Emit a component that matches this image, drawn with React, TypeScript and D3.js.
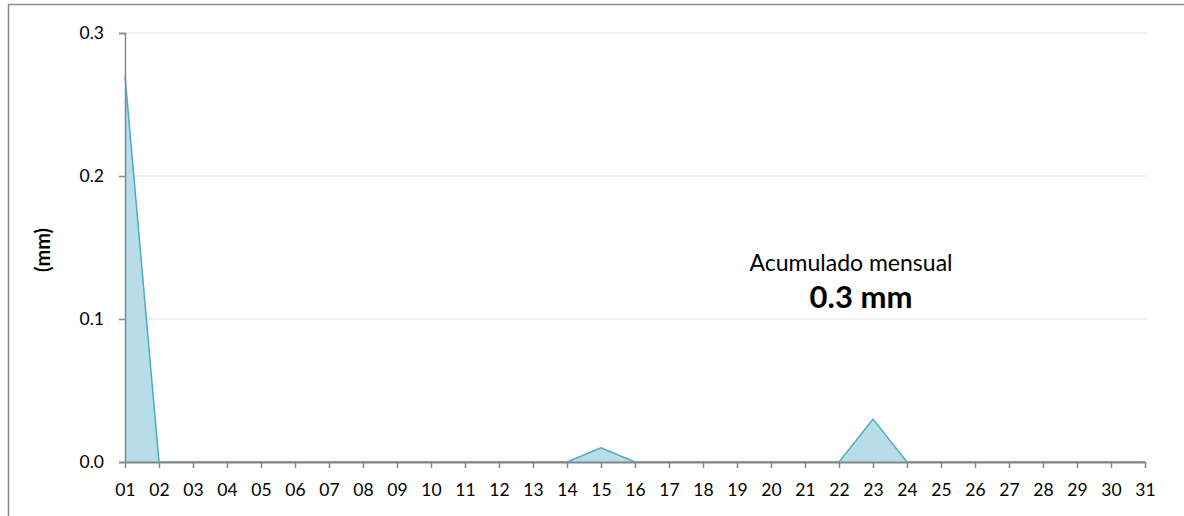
import React, { useRef, useEffect } from 'react';
import * as d3 from 'd3';

const days = d3.range(1, 32).map((d) => String(d).padStart(2, '0'));
const rain = [
  0.27, 0, 0, 0, 0, 0, 0, 0, 0, 0, 0, 0, 0, 0, 0.01, 0, 0, 0, 0, 0, 0, 0, 0.03, 0, 0, 0, 0, 0, 0, 0, 0,
];
const yTicks = [0, 0.1, 0.2, 0.3];
const totalLabel = '0.3 mm';

const W = 1184;
const H = 516;
const font = 'Lato, "Open Sans", sans-serif';

const App: React.FC = () => {
  const ref = useRef<SVGSVGElement>(null);

  useEffect(() => {
    const svg = d3.select(ref.current);
    svg.selectAll('*').remove();

    const x = d3.scalePoint<string>().domain(days).range([125, 1145]);
    const y = d3.scaleLinear().domain([0, 0.3]).range([462, 33]);

    // frame
    svg
      .append('rect')
      .attr('x', 8.5)
      .attr('y', 4.5)
      .attr('width', W)
      .attr('height', H)
      .attr('fill', 'white')
      .attr('stroke', '#8c8c8c')
      .attr('stroke-width', 1.5);

    // gridlines
    svg
      .append('g')
      .selectAll('line')
      .data(yTicks.filter((t) => t > 0))
      .enter()
      .append('line')
      .attr('x1', 125)
      .attr('x2', 1146)
      .attr('y1', (d) => y(d))
      .attr('y2', (d) => y(d))
      .attr('stroke', '#ededed')
      .attr('stroke-width', 1.5);

    // area
    const area = d3
      .area<number>()
      .x((_, i) => x(days[i]) as number)
      .y0(y(0))
      .y1((d) => y(d));
    const line = d3
      .line<number>()
      .x((_, i) => x(days[i]) as number)
      .y((d) => y(d));

    svg.append('path').datum(rain).attr('d', area).attr('fill', '#b6dde8');
    svg
      .append('path')
      .datum(rain)
      .attr('d', line)
      .attr('fill', 'none')
      .attr('stroke', '#4bacc6')
      .attr('stroke-width', 1.5);

    // y axis
    const yAxis = d3
      .axisLeft(y)
      .tickValues(yTicks)
      .tickFormat((d) => d3.format('.1f')(d as number))
      .tickSize(6)
      .tickPadding(15);
    const gy = svg.append('g').attr('transform', 'translate(125,0)').call(yAxis);
    gy.select('.domain').attr('stroke', '#868686').attr('stroke-width', 1.5);
    gy.selectAll('.tick line').attr('stroke', '#868686').attr('stroke-width', 1.5);
    gy.selectAll('.tick text')
      .attr('fill', '#000')
      .style('font-family', font)
      .style('font-size', '17.5px');

    // x axis
    const xAxis = d3.axisBottom(x).tickSize(6).tickSizeOuter(0).tickPadding(16);
    const gx = svg.append('g').attr('transform', 'translate(0,462)').call(xAxis);
    gx.select('.domain').attr('stroke', '#868686').attr('stroke-width', 2);
    gx.selectAll('.tick line').attr('stroke', '#868686').attr('stroke-width', 1.5);
    gx.selectAll('.tick text')
      .attr('fill', '#000')
      .style('font-family', font)
      .style('font-size', '17.5px');

    // y label
    svg
      .append('text')
      .attr('transform', 'translate(50,250) rotate(-90)')
      .attr('text-anchor', 'middle')
      .style('font-family', font)
      .style('font-size', '20px')
      .style('font-weight', 'bold')
      .text('(mm)');

    // annotation
    svg
      .append('text')
      .attr('x', 851)
      .attr('y', 271)
      .attr('text-anchor', 'middle')
      .style('font-family', font)
      .style('font-size', '23px')
      .text('Acumulado mensual');
    svg
      .append('text')
      .attr('x', 861)
      .attr('y', 308)
      .attr('text-anchor', 'middle')
      .style('font-family', font)
      .style('font-size', '31px')
      .style('font-weight', 'bold')
      .text(totalLabel);
  }, []);

  return <svg ref={ref} width={W} height={H} style={{ position: 'absolute', left: 0, top: 0 }} />;
};

export default App;
